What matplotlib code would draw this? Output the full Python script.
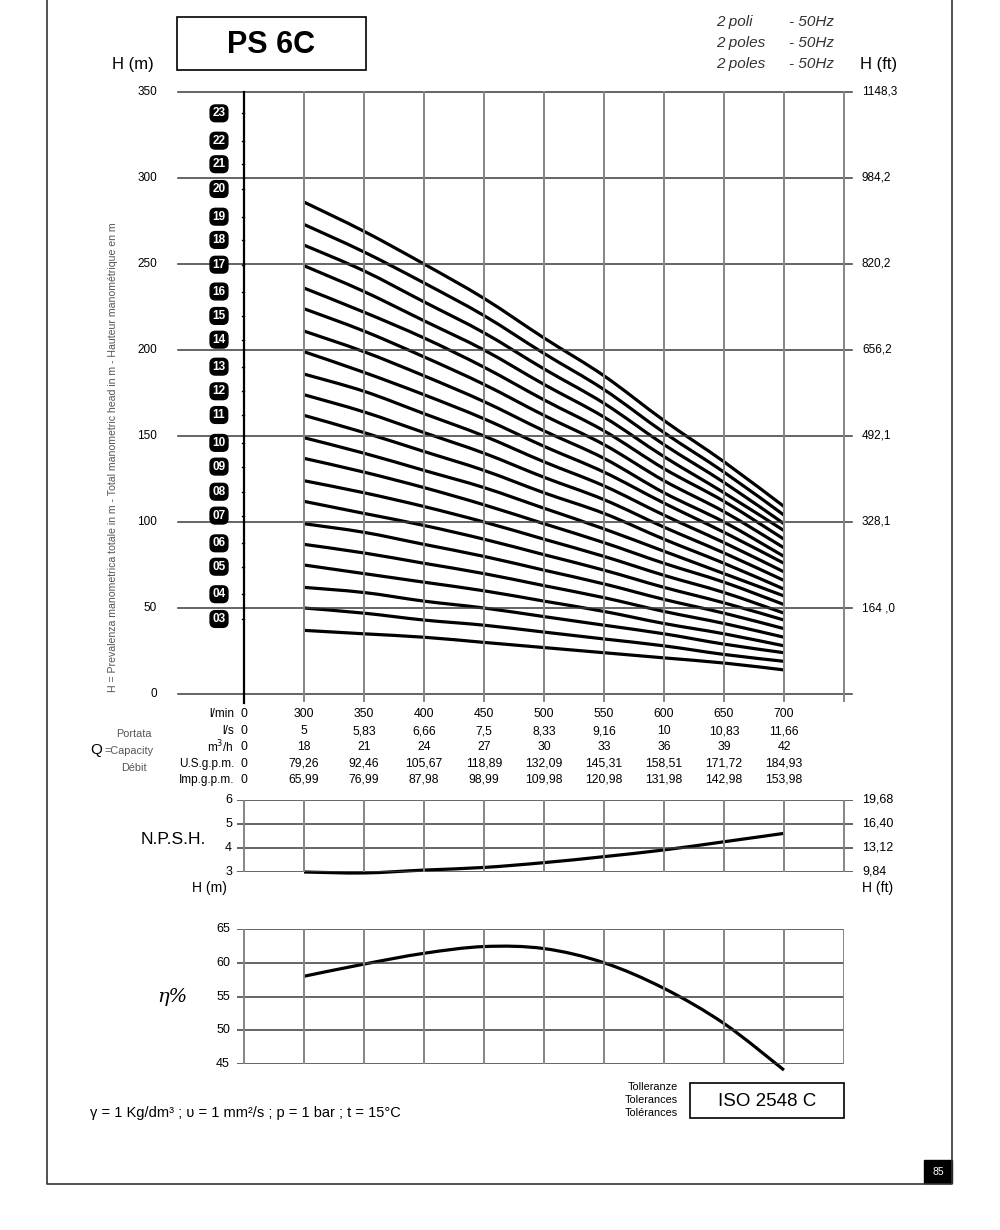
import numpy as np
import matplotlib.pyplot as plt
from matplotlib.path import Path
from matplotlib.patches import PathPatch

plt.rcParams['font.family'] = ['Liberation Sans', 'DejaVu Sans']

# flow points of the curves (l/min) and their column on the chart
flow = [300, 350, 400, 450, 500, 550, 600, 650, 700]
col = np.arange(1, 10)

# head curves in m, one row per number of stages (23 down to 3)
stages = list(range(23, 2, -1))
heads = [
    [286, 269, 250, 230, 207, 185, 159, 135, 109],
    [273, 257, 239, 220, 198, 177, 152, 129, 104],
    [261, 246, 228, 210, 189, 169, 145, 123, 99],
    [249, 234, 217, 200, 180, 161, 138, 117, 95],
    [236, 222, 207, 190, 171, 153, 131, 112, 90],
    [224, 211, 196, 180, 162, 145, 124, 106, 85],
    [211, 199, 185, 170, 153, 137, 117, 100, 80],
    [199, 187, 174, 160, 144, 129, 111, 94, 76],
    [186, 176, 163, 150, 135, 121, 104, 88, 71],
    [174, 164, 152, 140, 126, 113, 97, 82, 66],
    [162, 152, 141, 130, 117, 105, 90, 76, 61],
    [149, 140, 130, 120, 108, 96, 83, 70, 57],
    [137, 129, 120, 110, 99, 88, 76, 65, 52],
    [124, 117, 109, 100, 90, 80, 69, 59, 47],
    [112, 105, 98, 90, 81, 72, 62, 53, 43],
    [99, 94, 87, 80, 72, 64, 55, 47, 38],
    [87, 82, 76, 70, 63, 56, 48, 41, 33],
    [75, 70, 65, 60, 54, 48, 41, 35, 28],
    [62, 59, 54, 50, 45, 40, 35, 29, 24],
    [50, 47, 43, 40, 36, 32, 28, 23, 19],
    [37, 35, 33, 30, 27, 24, 21, 18, 14],
]
# heights (m) where the stage badges sit
badge_h = [337.6, 321.7, 308, 293.6, 277.5, 264, 249.6, 234, 219.8, 206, 190.3,
           176, 162.2, 146, 132.2, 117.6, 103.7, 87.6, 74, 58, 43.6]

npsh = [3.0, 2.96, 3.08, 3.19, 3.39, 3.64, 3.92, 4.26, 4.61]
eff = [58.0, 59.8, 61.4, 62.4, 62.1, 60.0, 56.2, 51.0, 44.1]

h_ticks = [0, 50, 100, 150, 200, 250, 300, 350]
ft_ticks = ['', '164 ,0', '328,1', '492,1', '656,2', '820,2', '984,2', '1148,3']
npsh_ticks = [3, 4, 5, 6]
npsh_ft = ['9,84', '13,12', '16,40', '19,68']
eff_ticks = [45, 50, 55, 60, 65]

table_rows = ['l/min', 'l/s', 'm$^3$/h', 'U.S.g.p.m.', 'Imp.g.p.m.']
table_vals = [
    ['0', '300', '350', '400', '450', '500', '550', '600', '650', '700'],
    ['0', '5', '5,83', '6,66', '7,5', '8,33', '9,16', '10', '10,83', '11,66'],
    ['0', '18', '21', '24', '27', '30', '33', '36', '39', '42'],
    ['0', '79,26', '92,46', '105,67', '118,89', '132,09', '145,31', '158,51', '171,72', '184,93'],
    ['0', '65,99', '76,99', '87,98', '98,99', '109,98', '120,98', '131,98', '142,98', '153,98'],
]

W, H = 1000, 1230
fig = plt.figure(figsize=(10, 12.3), dpi=100)


def box(x0, y0, x1, y1):
    return [x0 / W, 1 - y1 / H, (x1 - x0) / W, (y1 - y0) / H]


def ftxt(x, y, s, **kw):
    kw.setdefault('va', 'center')
    return fig.text(x / W, 1 - y / H, s, **kw)


def smooth_curve(ax, xs, ys, **kw):
    # draws a smooth bezier through the read points (catmull-rom handles)
    xs = np.asarray(xs, float)
    ys = np.asarray(ys, float)
    pts = np.column_stack([xs, ys])
    verts = [pts[0]]
    codes = [Path.MOVETO]
    for i in range(len(pts) - 1):
        p0 = pts[max(i - 1, 0)]
        p1 = pts[i]
        p2 = pts[i + 1]
        p3 = pts[min(i + 2, len(pts) - 1)]
        verts += [p1 + (p2 - p0) / 6, p2 - (p3 - p1) / 6, p2]
        codes += [Path.CURVE4] * 3
    ax.add_patch(PathPatch(Path(verts, codes), fill=False, **kw))


gridc = '#858585'
hc = '#3a3a3a'

# ---- main head chart
ax = fig.add_axes(box(178, 92, 852, 694))
ax.set_xlim(-66 / 60, 10 + 8 / 60)
ax.set_ylim(0, 350)
ax.axis('off')
for h in h_ticks:
    ax.plot([-66 / 60, 10 + 8 / 60], [h, h], color=hc, lw=1.1, clip_on=False)
for p in range(1, 11):
    ax.plot([p, p], [-4, 350], color=gridc, lw=1.4, clip_on=False)
ax.plot([0, 0], [-5, 350], color='black', lw=1.6, clip_on=False)
for row in heads:
    smooth_curve(ax, col, row, ec='black', lw=2.3, capstyle='butt')
for n, y in zip(stages, badge_h):
    ax.text(-25 / 60, y, '%02d' % n, ha='center', va='center', color='white',
            fontsize=8.5, fontweight='bold',
            bbox=dict(boxstyle='round,pad=0.2,rounding_size=0.45', fc='black', ec='black'))
    ax.plot([-0.04, 0], [y, y], color='black', lw=1)

for h, ft in zip(h_ticks, ft_ticks):
    yy = 694 - h * 602 / 350
    ftxt(157, yy, str(h), ha='right', fontsize=8.5)
    if ft:
        ftxt(862, yy, ft, ha='left', fontsize=8.5)

ftxt(113, 457, 'H = Prevalenza manometrica totale in m - Total manometric head in m - '
     'Hauteur manométrique en m', rotation=90, ha='center', fontsize=7.6, color='#555555')

# ---- header
fig.patches.append(plt.Rectangle((177 / W, 1 - 70 / H), 189 / W, 53 / H, transform=fig.transFigure,
                                 fill=False, ec='black', lw=1.2))
ftxt(271, 45, 'PS 6C', ha='center', fontsize=22, fontweight='bold')
ftxt(112, 64, 'H (m)', ha='left', fontsize=12)
ftxt(860, 64, 'H (ft)', ha='left', fontsize=12)
for y, a in zip([22, 43, 64], ['2 poli', '2 poles', '2 poles']):
    ftxt(716, y, a, ha='left', fontsize=11, style='italic', color='#333333')
    ftxt(789, y, '- 50Hz', ha='left', fontsize=11, style='italic', color='#333333')

# ---- flow table
row_y = [714, 731, 747, 764, 780]
for ry, lab, vals in zip(row_y, table_rows, table_vals):
    ftxt(234, ry, lab, ha='right', fontsize=8.5)
    for i, v in enumerate(vals):
        ftxt(244 + 60 * i, ry, v, ha='center', fontsize=8.8)
ftxt(134, 734, 'Portata', ha='center', fontsize=7.8, color='#555555')
ftxt(90, 750, 'Q', ha='left', fontsize=11)
ftxt(104, 751, '=Capacity', ha='left', fontsize=7.8, color='#555555')
ftxt(134, 768, 'Débit', ha='center', fontsize=7.8, color='#555555')

# ---- NPSH
axn = fig.add_axes(box(237, 800, 853, 872))
axn.set_xlim(-7 / 60, 10 + 9 / 60)
axn.set_ylim(3, 6)
axn.axis('off')
for v in npsh_ticks:
    axn.plot([-7 / 60, 10 + 9 / 60], [v, v], color=hc, lw=1.1)
for p in range(0, 11):
    axn.plot([p, p], [3, 6], color=gridc, lw=1.4)
smooth_curve(axn, col, npsh, ec='black', lw=2.3, clip_on=False)
for v, ft in zip(npsh_ticks, npsh_ft):
    yy = 872 - (v - 3) * 24
    ftxt(232, yy, str(v), ha='right', fontsize=9)
    ftxt(862, yy, ft, ha='left', fontsize=9)
ftxt(141, 840, 'N.P.S.H.', ha='left', fontsize=12.5)
ftxt(227, 888, 'H (m)', ha='right', fontsize=10)
ftxt(862, 888, 'H (ft)', ha='left', fontsize=10)

# ---- efficiency
axe = fig.add_axes(box(237, 929, 844, 1064))
axe.set_xlim(-7 / 60, 10)
axe.set_ylim(45, 65)
axe.axis('off')
for v in eff_ticks:
    axe.plot([-7 / 60, 10], [v, v], color=hc, lw=1.1)
for p in range(0, 11):
    axe.plot([p, p], [45, 65], color=gridc, lw=1.4)
smooth_curve(axe, col, eff, ec='black', lw=2.3, clip_on=False)
for v in eff_ticks:
    ftxt(230, 1064 - (v - 45) * 6.75, str(v), ha='right', fontsize=9)
ftxt(172, 997, 'η%', ha='center', fontsize=14, style='italic', family='DejaVu Serif')

# ---- footer
ftxt(90, 1113, 'γ = 1 Kg/dm³ ; υ = 1 mm²/s ; p = 1 bar ; t = 15°C', ha='left', fontsize=10.5)
for y, s in zip([1087, 1100, 1113], ['Tolleranze', 'Tolerances', 'Tolérances']):
    ftxt(678, y, s, ha='right', fontsize=7.8)
fig.patches.append(plt.Rectangle((690 / W, 1 - 1118 / H), 154 / W, 35 / H, transform=fig.transFigure,
                                 fill=False, ec='black', lw=1.2))
ftxt(767, 1101, 'ISO 2548 C', ha='center', fontsize=13.5)
fig.patches.append(plt.Rectangle((924 / W, 1 - 1183 / H), 28 / W, 23 / H, transform=fig.transFigure,
                                 fc='black', ec='black'))
ftxt(938, 1172, '85', ha='center', fontsize=7.5, color='white')

# page frame
fig.lines.append(plt.Line2D([47 / W, 47 / W, 952 / W, 952 / W], [1, 1 - 1184 / H, 1 - 1184 / H, 1],
                            transform=fig.transFigure, color='#333333', lw=1.2))

fig.savefig('out.png', dpi=100, facecolor='white')
